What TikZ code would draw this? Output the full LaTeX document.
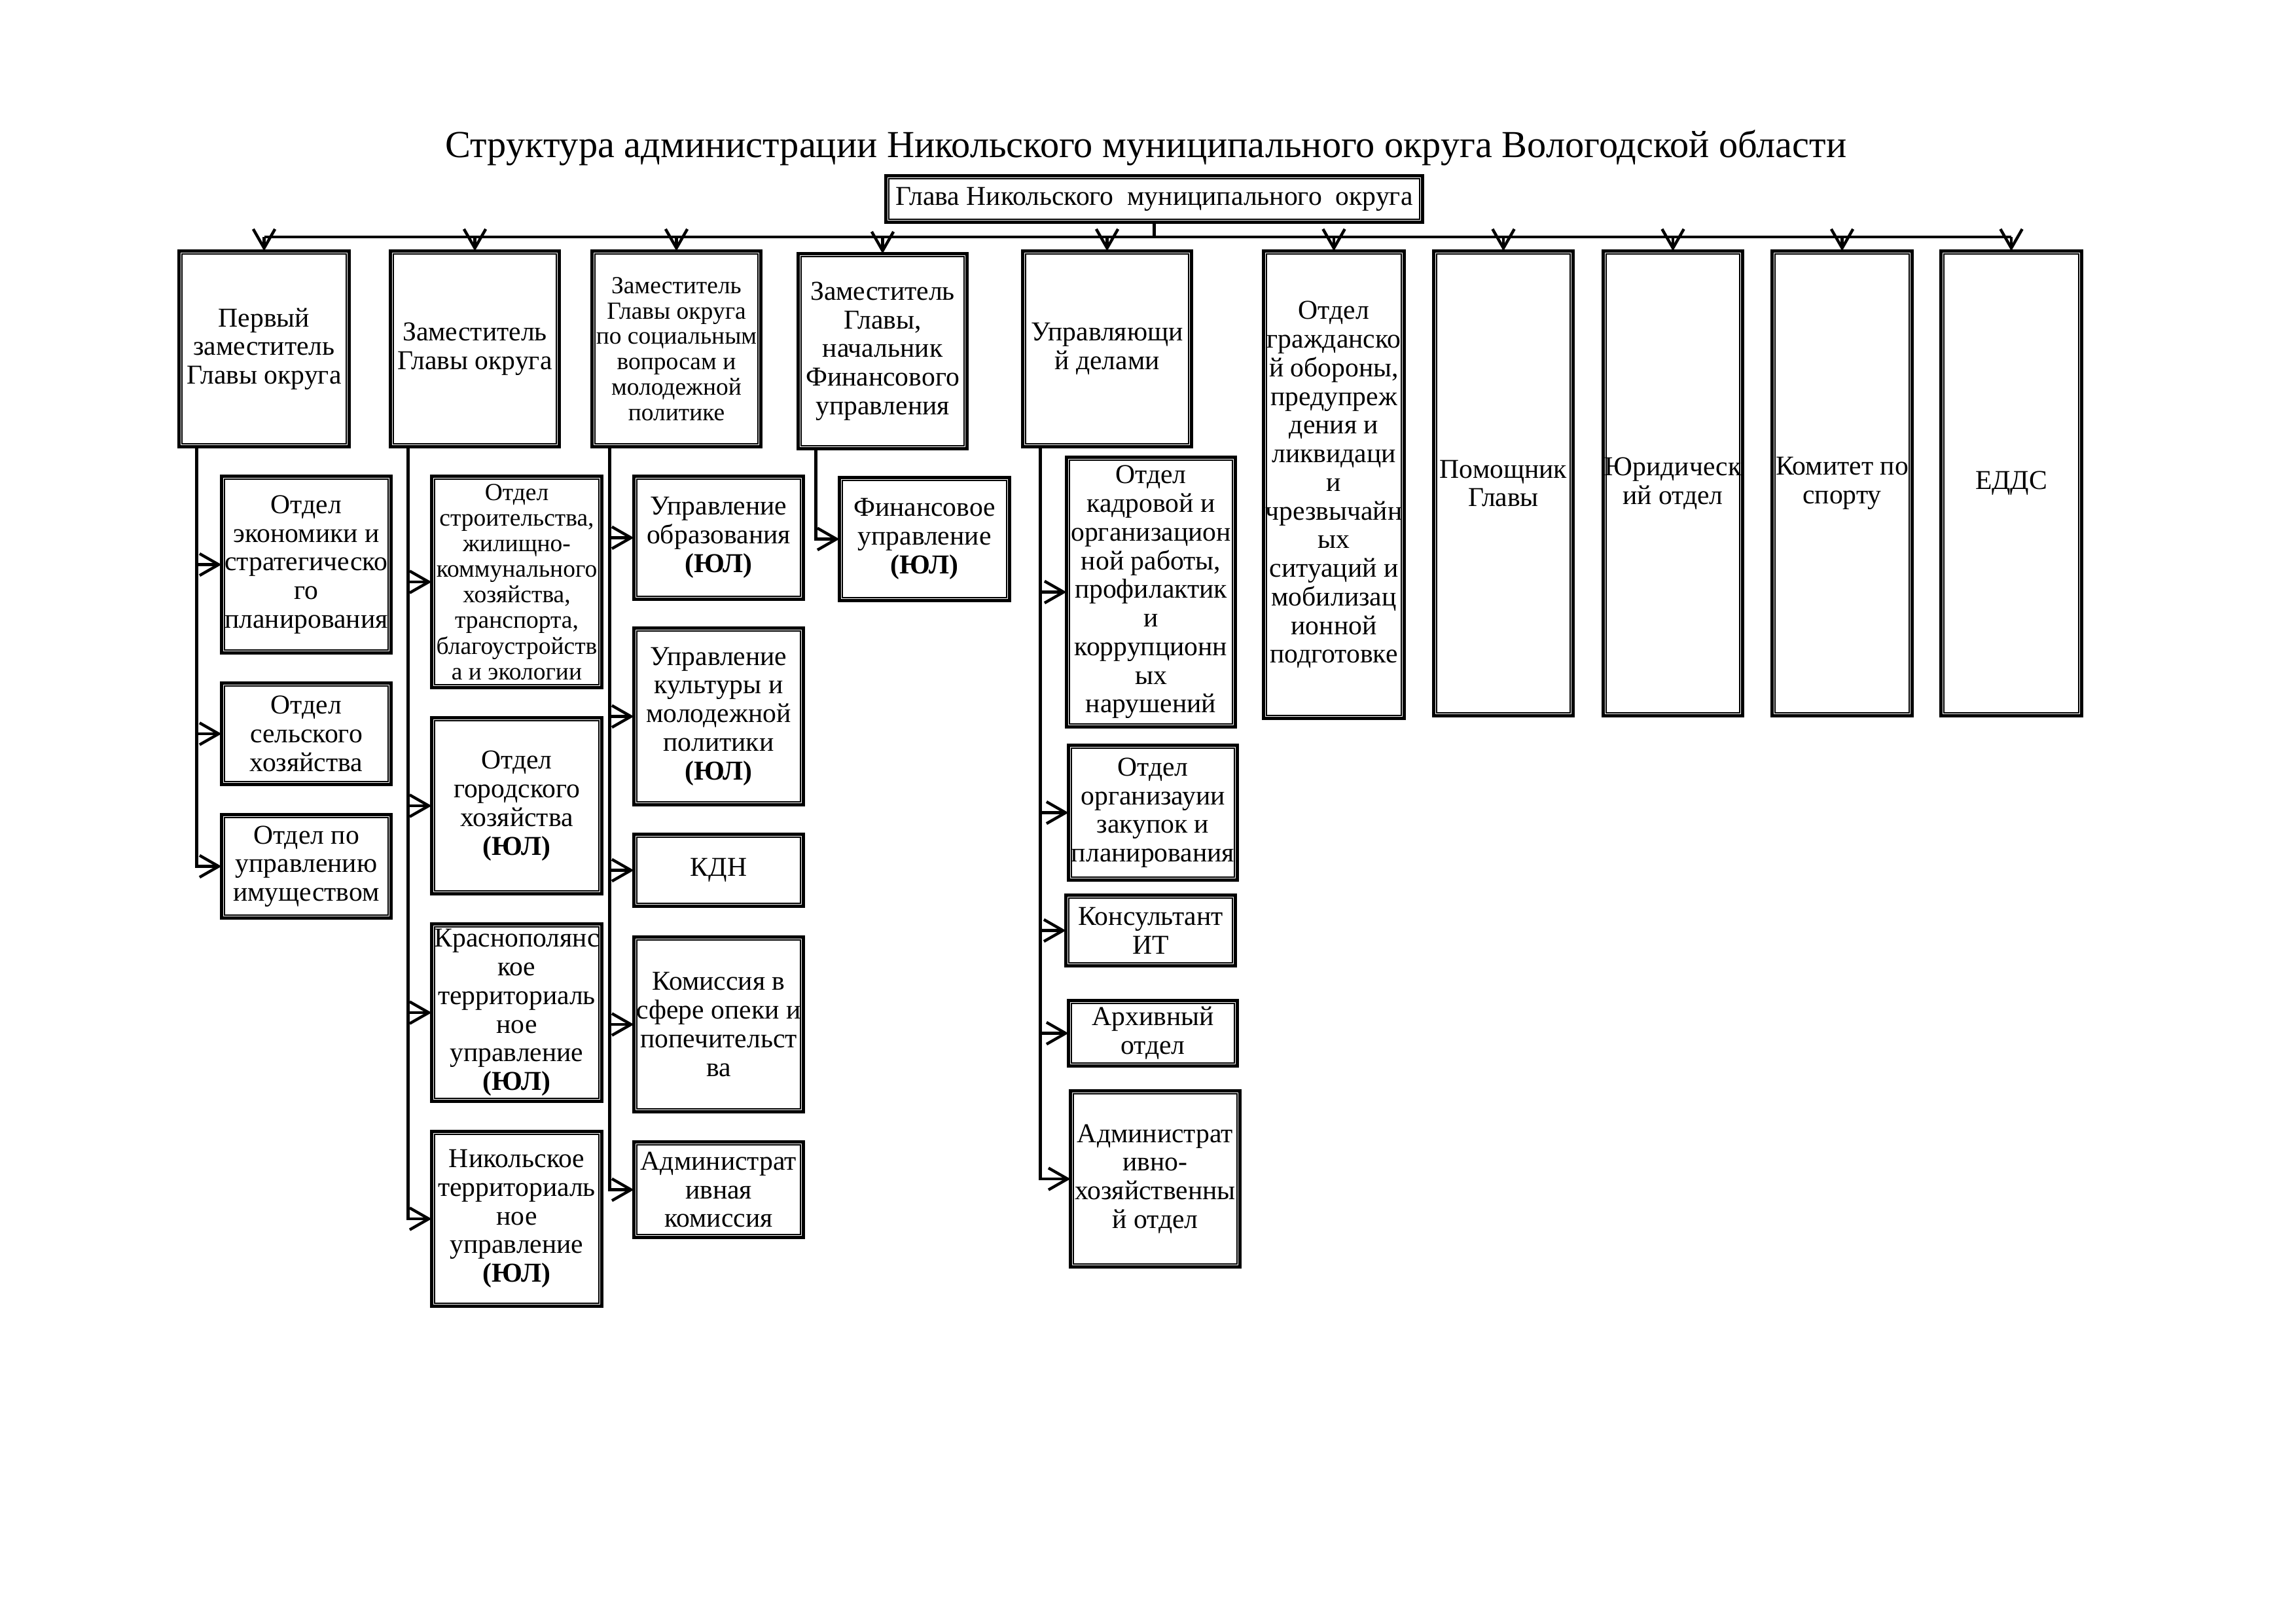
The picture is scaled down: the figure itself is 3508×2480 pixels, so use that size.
\documentclass[tikz,border=0pt]{standalone}
\usepackage{fontspec}
\setmainfont{Liberation Serif}
\usetikzlibrary{arrows.meta,calc}
\tikzset{
  obox/.style={draw, line width=1.2pt, inner sep=0pt, outer sep=0pt, align=center,
    font=\fontsize{10}{10.5}\selectfont},
  smallfont/.style={font=\fontsize{9}{9.3}\selectfont},
  ibox/.style={line width=0.4pt},
  conn/.style={line width=1.05pt},
  arr/.style={conn, -{Straight Barb[length=7pt,width=8pt]}},
}
% name, x1, y1, x2, y2, text  (outer edges, in px of the page)
\newcommand\mkbox[7][]{%
  \node[obox,#1,minimum width={(#5-#3)*0.24pt-1.2pt},minimum height={(#6-#4)*0.24pt-1.2pt}]
    (#2) at ({(#3+#5)/2},{(#4+#6)/2}) {#7};
  \draw[ibox] ($(#2.north west)+(4.6,4.6)$) rectangle ($(#2.south east)+(-4.6,-4.6)$);
}
\begin{document}
\begin{tikzpicture}[x=0.24pt,y=-0.24pt]
\useasboundingbox (0,0) rectangle (3508,2480);
\fill[white] (0,0) rectangle (3508,2480);

\node[font=\fontsize{14}{16}\selectfont, anchor=base, inner sep=0pt] (title) at (1751,240)
  {Структура администрации Никольского муниципального округа Вологодской области};

\mkbox{glava}{1351}{266}{2176}{342}{Глава Никольского\ \ муниципального\ \ округа}

\mkbox{top1}{271}{381}{536}{685}{Первый\\заместитель\\Главы округа}
\mkbox{top2}{594}{381}{857}{685}{Заместитель\\Главы округа}
\mkbox[smallfont]{top3}{902}{381}{1165}{685}{Заместитель\\Главы округа\\по социальным\\вопросам и\\молодежной\\политике}
\mkbox{top4}{1217}{385}{1480}{688}{Заместитель\\Главы,\\начальник\\Финансового\\управления}
\mkbox{top5}{1560}{381}{1823}{685}{Управляющи\\й делами}
\mkbox{top6}{1928}{381}{2148}{1100}{Отдел\\гражданско\\й обороны,\\предупреж\\дения и\\ликвидаци\\и\\чрезвычайн\\ых\\ситуаций и\\мобилизац\\ионной\\подготовке}
\mkbox{top7}{2188}{381}{2406}{1096}{Помощник\\Главы}
\mkbox{top8}{2447}{381}{2665}{1096}{Юридическ\\ий отдел}
\mkbox{top9}{2705}{381}{2924}{1096}{Комитет по\\спорту}
\mkbox{top10}{2963}{381}{3183}{1096}{ЕДДС}

\mkbox{s1a}{336}{725}{600}{1000}{Отдел\\экономики и\\стратегическо\\го\\планирования}
\mkbox{s1b}{336}{1041}{600}{1201}{Отдел\\сельского\\хозяйства}
\mkbox{s1c}{336}{1242}{600}{1405}{Отдел по\\управлению\\имуществом}

\mkbox[font=\fontsize{9}{9.4}\selectfont]{s2a}{657}{725}{922}{1053}{Отдел\\строительства,\\жилищно-\\коммунального\\хозяйства,\\транспорта,\\благоустройств\\а и экологии}
\mkbox{s2b}{657}{1094}{922}{1368}{Отдел\\городского\\хозяйства\\\textbf{(ЮЛ)}}
\mkbox{s2c}{657}{1409}{922}{1685}{Краснополянс\\кое\\территориаль\\ное\\управление\\\textbf{(ЮЛ)}}
\mkbox{s2d}{657}{1726}{922}{1998}{Никольское\\территориаль\\ное\\управление\\\textbf{(ЮЛ)}}

\mkbox{s3a}{966}{725}{1230}{918}{Управление\\образования\\\textbf{(ЮЛ)}}
\mkbox{s3b}{966}{957}{1230}{1232}{Управление\\культуры и\\молодежной\\политики\\\textbf{(ЮЛ)}}
\mkbox{s3c}{966}{1272}{1230}{1387}{КДН}
\mkbox{s3d}{966}{1429}{1230}{1701}{Комиссия в\\сфере опеки и\\попечительст\\ва}
\mkbox{s3e}{966}{1742}{1230}{1893}{Администрат\\ивная\\комиссия}

\mkbox{s4a}{1280}{727}{1545}{920}{Финансовое\\управление\\\textbf{(ЮЛ)}}

\mkbox{s5a}{1627}{696}{1890}{1113}{Отдел\\кадровой и\\организацион\\ной работы,\\профилактик\\и\\коррупционн\\ых\\нарушений}
\mkbox{s5b}{1630}{1136}{1893}{1347}{Отдел\\организауии\\закупок и\\планирования}
\mkbox{s5c}{1626}{1365}{1890}{1478}{Консультант\\ИТ}
\mkbox{s5d}{1630}{1526}{1893}{1631}{Архивный\\отдел}
\mkbox{s5e}{1633}{1664}{1897}{1938}{Администрат\\ивно-\\хозяйственны\\й отдел}

% bus
\coordinate (busy) at (0,362);
\draw[conn] (glava.south) -- (glava.south |- busy);
\draw[conn] (top1.north |- busy) -- (top10.north |- busy);
\foreach \n in {top1,top2,top3,top4,top5,top6,top7,top8,top9,top10}
  \draw[arr] (\n.north |- busy) -- (\n.north);

% trunks
\foreach \n in {1,2,3,4,5}
  \coordinate (t\n) at ($(top\n.south west)+(27,0)$);

\draw[arr] (t1) |- (s1c.west);
\draw[arr] (t1 |- s1a.west) -- (s1a.west);
\draw[arr] (t1 |- s1b.west) -- (s1b.west);

\draw[arr] (t2) |- (s2d.west);
\foreach \n in {s2a,s2b,s2c}
  \draw[arr] (t2 |- \n.west) -- (\n.west);

\draw[arr] (t3) |- (s3e.west);
\foreach \n in {s3a,s3b,s3c,s3d}
  \draw[arr] (t3 |- \n.west) -- (\n.west);

\draw[arr] (t4) |- (s4a.west);

\draw[arr] (t5) |- (s5e.west);
\foreach \n in {s5a,s5b,s5c,s5d}
  \draw[arr] (t5 |- \n.west) -- (\n.west);
\end{tikzpicture}
\end{document}
